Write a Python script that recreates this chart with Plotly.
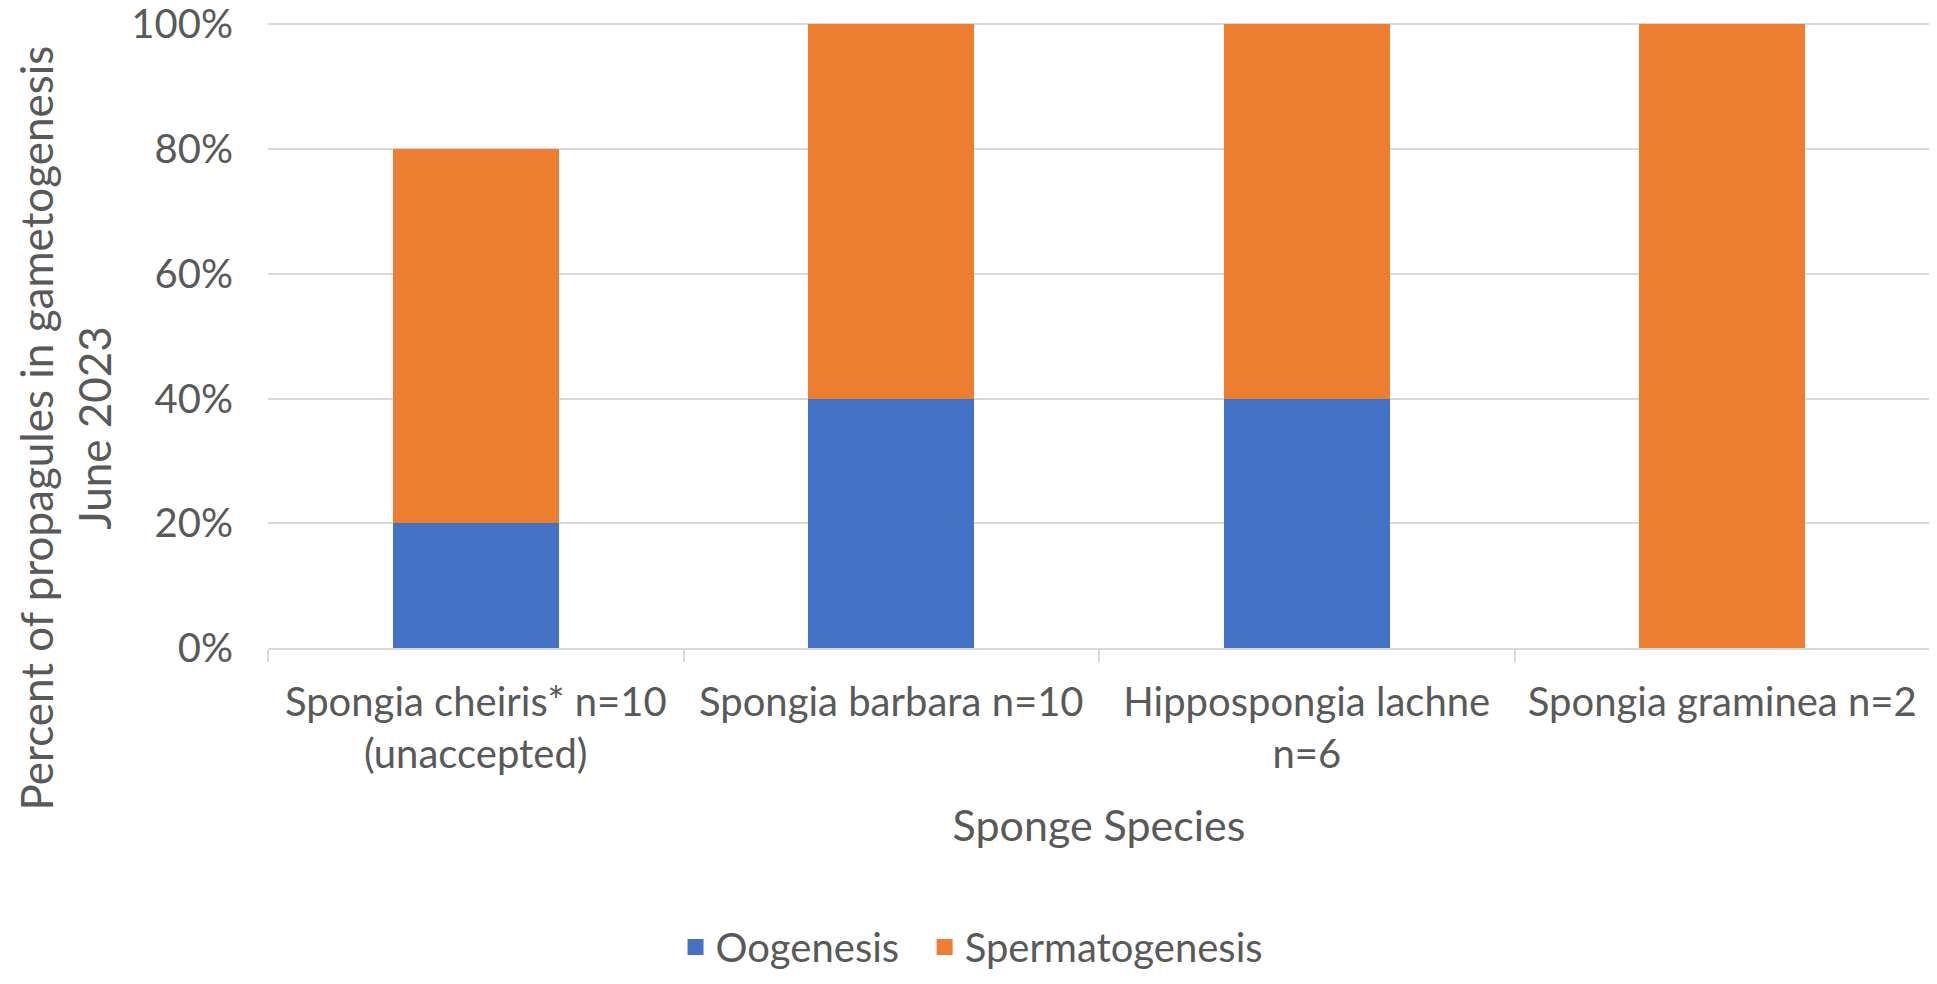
import plotly.graph_objects as go

categories = [
    "Spongia cheiris* n=10<br>(unaccepted)",
    "Spongia barbara n=10",
    "Hippospongia lachne<br>n=6",
    "Spongia graminea n=2",
]
oogenesis = [0.20, 0.40, 0.40, 0.00]
spermatogenesis = [0.60, 0.60, 0.60, 1.00]
y_ticks = [0, 0.2, 0.4, 0.6, 0.8, 1.0]
series_names = ["Oogenesis", "Spermatogenesis"]
legend_labels = ["Oogenesis\u00a0\u00a0", "Spermatogenesis"]
series_colors = ["#4472c4", "#ed7d31"]

FONT = "Lato"
GREY = "#595959"
GRID = "#d9d9d9"
TICK = 40
TITLE = 44

fig = go.Figure()
for name, vals, col in zip(series_names, [oogenesis, spermatogenesis], series_colors):
    fig.add_trace(go.Bar(name=name, x=categories, y=vals, legendgroup=name,
                         showlegend=False,
                         marker=dict(color=col, line=dict(width=0))))
# legend entries with larger square swatches
for name, label, col in zip(series_names, legend_labels, series_colors):
    fig.add_trace(go.Scatter(name=label, x=[None], y=[None], mode="markers",
                             legendgroup=name, showlegend=True, hoverinfo="skip",
                             marker=dict(symbol="square", size=16, color=col)))

W, H = 1937, 984
L, R, T, B = 260, 15, 15, 327
pw = W - L - R
ph = H - T - B

fig.update_layout(
    width=W, height=H,
    barmode="stack", bargap=0.6,
    plot_bgcolor="white", paper_bgcolor="white",
    margin=dict(l=L, r=R, t=T, b=B, pad=0),
    font=dict(family=FONT, color=GREY, size=TICK),
    showlegend=True,
    legend=dict(orientation="h", x=0.4236, xanchor="center",
                y=-0.4782, yanchor="middle",
                font=dict(size=TICK, color=GREY),
                traceorder="normal", bgcolor="rgba(0,0,0,0)"),
    xaxis=dict(
        type="category", tickson="boundaries", ticks="outside", ticklen=12,
        tickwidth=2, tickcolor=GRID, showline=True, linecolor=GRID, linewidth=2,
        showgrid=False, tickfont=dict(size=TICK, color=GREY, family=FONT),
        tickangle=0, ticklabelstandoff=18,
        title=dict(text="Sponge Species", font=dict(size=TITLE - 1, color=GREY, family=FONT),
                   standoff=35),
        automargin=False,
    ),
    yaxis=dict(
        range=[0, 1.002], tickvals=y_ticks, tickformat=".0%",
        showgrid=True, gridcolor=GRID, gridwidth=2, zeroline=False,
        showline=False, ticks="", tickfont=dict(size=TICK, color=GREY, family=FONT),
        ticklabelstandoff=34, ticklabeloverflow="allow",
        automargin=False,
    ),
)

fig.add_annotation(text="Percent of propagules in gametogenesis<br>June 2023",
                   xref="paper", yref="paper", x=-0.1222, y=0.3528,
                   xanchor="center", yanchor="middle", textangle=-90,
                   showarrow=False, font=dict(size=TITLE, color=GREY, family=FONT))

fig.add_shape(type="rect", xref="paper", yref="paper",
              x0=(1925 - L) / pw, x1=(W - L) / pw,
              y0=-(B) / ph, y1=1 + T / ph,
              fillcolor="#a8dcd8", line=dict(width=0), layer="above")

fig.write_html("out.html")
